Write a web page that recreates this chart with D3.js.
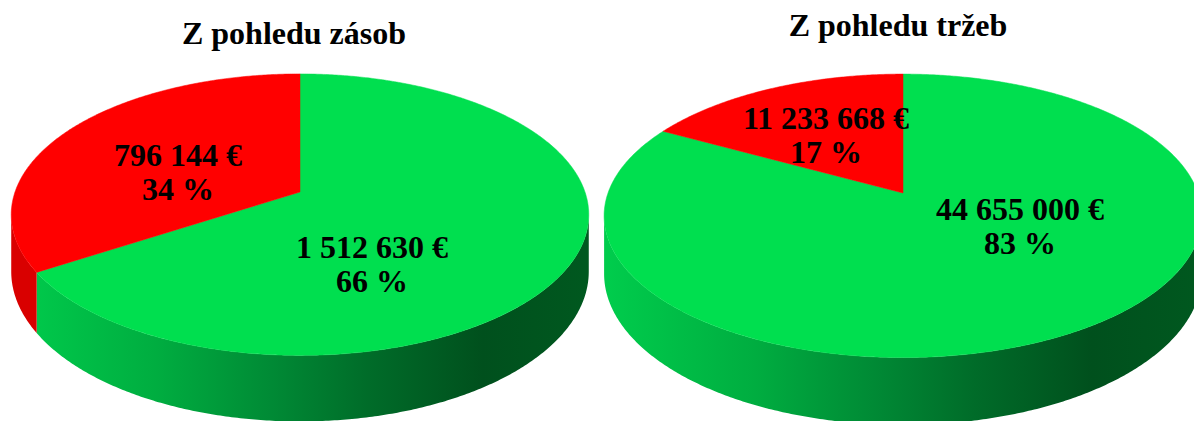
<!DOCTYPE html>
<html><head><meta charset="utf-8">
<script src="https://cdn.jsdelivr.net/npm/d3@7"></script>
<style>html,body{margin:0;padding:0;background:#fff;}svg{display:block;}</style>
</head><body>
<svg id="chart" width="1194" height="421"></svg>
<script>
// ---- data ----
const pieTitles = ["Z pohledu zásob", "Z pohledu tržeb"];
const categories = ["Ostatní", "Problémové"];          // green, red
const amountsZasoby = [1512630, 796144];
const amountsTrzby = [44655000, 11233668];
const percentZasoby = [66, 34];
const percentTrzby = [83, 17];

// ---- layout / style ----
const colorsTop = ["#00df4f", "#ff0000"];
const redWall = "#d90000";
const pies = [
  {title: pieTitles[0], amounts: amountsZasoby, pct: percentZasoby,
   ax: 300, ay: 192, R: 285, k: 0.481, p: 0.161, D: 55.4, titleX: 294, titleY: 44,
   labelOff: [[72, 71], [-122, -21]]},
  {title: pieTitles[1], amounts: amountsTrzby, pct: percentTrzby,
   ax: 903, ay: 193, R: 295, k: 0.468, p: 0.161, D: 56.5, titleX: 898, titleY: 36,
   labelOff: [[117, 32], [-77, -59]]}
];
const fmt = v => d3.format(",")(v).replace(/,/g, "\u00a0") + "\u00a0€";

const svg = d3.select("#chart");
const defs = svg.append("defs");

pies.forEach((P, pi) => {
  const g = svg.append("g");
  const proj = (t, f, z) => {
    const u = Math.sin(t) * f, v = -Math.cos(t) * f;
    const s = 1 / (1 - P.p * v);
    return [P.ax + P.R * u * s, P.ay + P.R * P.k * v * s + z * s];
  };
  const grad = defs.append("linearGradient").attr("id", "wg" + pi)
    .attr("gradientUnits", "userSpaceOnUse")
    .attr("x1", P.ax - P.R).attr("x2", P.ax + P.R).attr("y1", 0).attr("y2", 0);
  [[0, "#00cc4c"], [0.25, "#00ad40"], [0.45, "#008a35"], [0.62, "#006c29"], [0.82, "#00501d"], [1, "#00581f"]]
    .forEach(([o, c]) => grad.append("stop").attr("offset", o).attr("stop-color", c));

  const arcs = d3.pie().sort(null).value(d => d)(P.pct);
  const vis0 = Math.acos(-P.p), vis1 = 2 * Math.PI - vis0;
  const line = d3.line();
  const steps = (a0, a1) => {
    const n = Math.max(2, Math.ceil((a1 - a0) / (Math.PI / 360)));
    return d3.range(n + 1).map(i => a0 + (a1 - a0) * i / n);
  };
  // walls
  arcs.forEach((a, i) => {
    const s = Math.max(a.startAngle, vis0), e = Math.min(a.endAngle, vis1);
    if (e <= s) return;
    const ts = steps(s, e);
    const pts = ts.map(t => proj(t, 1, 0)).concat(ts.slice().reverse().map(t => proj(t, 1, P.D)));
    g.append("path").attr("d", line(pts) + "Z")
      .attr("fill", i === 0 ? `url(#wg${pi})` : redWall);
  });
  // top faces
  arcs.forEach((a, i) => {
    const pts = [[P.ax, P.ay]].concat(steps(a.startAngle, a.endAngle).map(t => proj(t, 1, 0)));
    g.append("path").attr("d", line(pts) + "Z").attr("fill", colorsTop[i])
      .attr("stroke", colorsTop[i]).attr("stroke-width", 0.5);
  });
  // labels
  arcs.forEach((a, i) => {
    const [dx, dy] = P.labelOff[i];
    const t = g.append("text").attr("text-anchor", "middle")
      .attr("font-family", "Liberation Serif, Times New Roman, serif")
      .attr("font-weight", "bold").attr("font-size", 32).attr("fill", "#000");
    t.append("tspan").attr("x", P.ax + dx).attr("y", P.ay + dy - 5).text(fmt(P.amounts[i]));
    t.append("tspan").attr("x", P.ax + dx).attr("y", P.ay + dy + 29).text(P.pct[i] + " %");
  });
  svg.append("text").attr("x", P.titleX).attr("y", P.titleY).attr("text-anchor", "middle")
    .attr("font-family", "Liberation Serif, Times New Roman, serif")
    .attr("font-weight", "bold").attr("font-size", 32).attr("fill", "#000").text(P.title);
});
</script>
</body></html>
